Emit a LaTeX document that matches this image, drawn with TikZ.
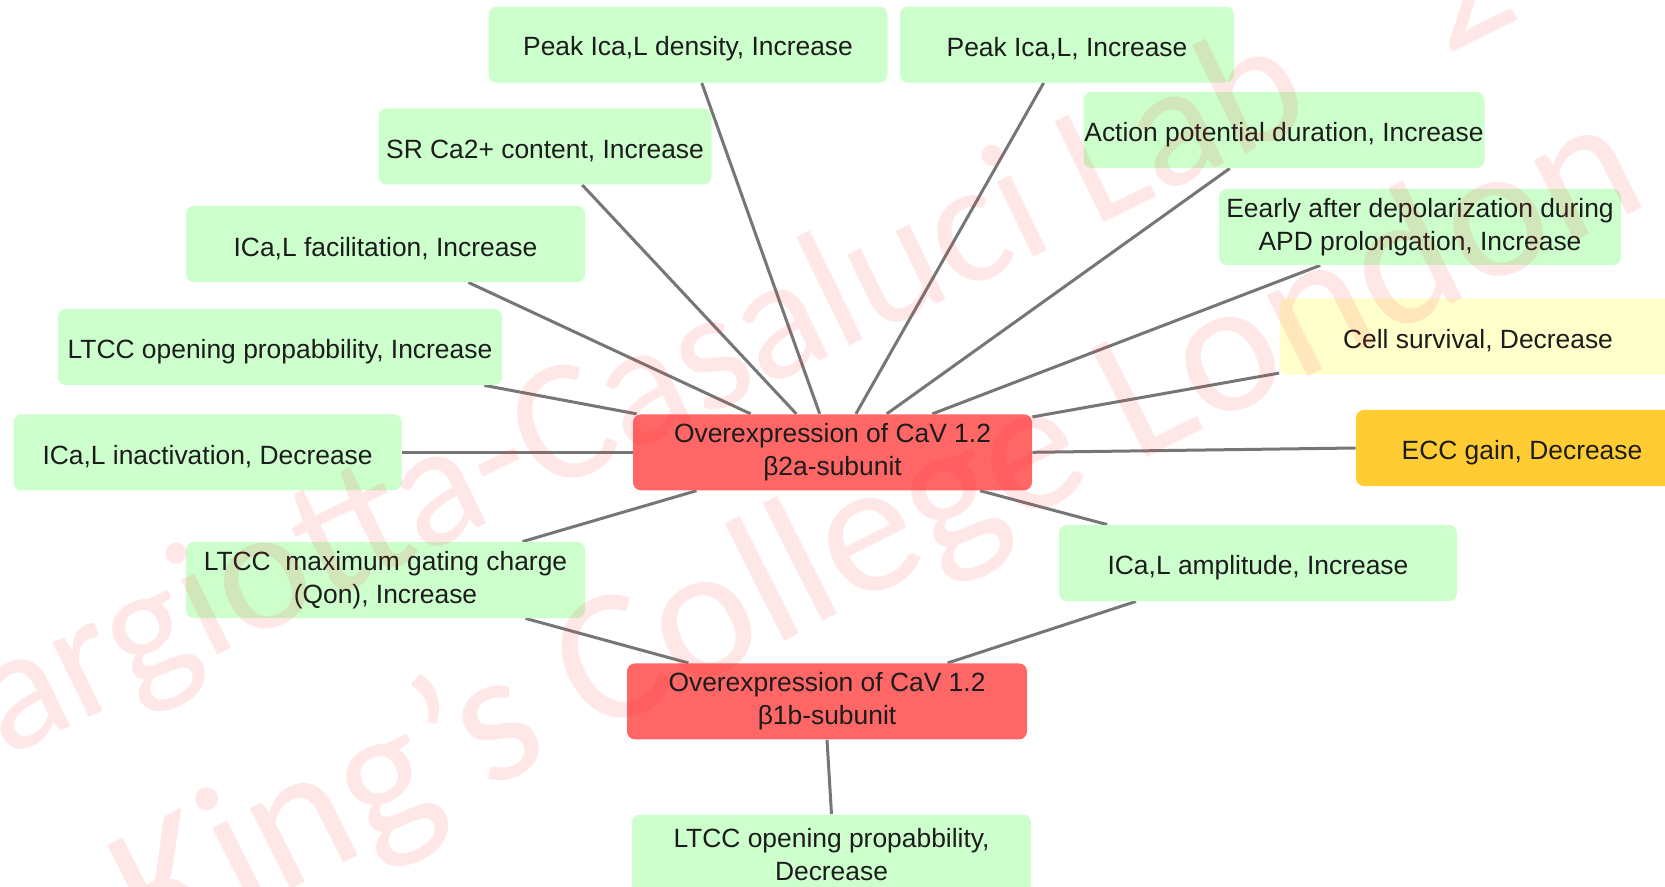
\documentclass[tikz,border=0pt]{standalone}
\usepackage{fontspec}
\setmainfont{Liberation Sans}
\newfontfamily\wmfont{Carlito}
\definecolor{boxgreen}{RGB}{204,255,204}
\definecolor{boxred}{RGB}{255,102,102}
\definecolor{boxorange}{RGB}{255,204,51}
\definecolor{boxyellow}{RGB}{255,255,204}
\definecolor{linkgray}{RGB}{118,118,118}
\definecolor{inkdark}{RGB}{28,28,28}
\definecolor{markred}{RGB}{255,40,40}
\pgfdeclarelayer{background}
\pgfdeclarelayer{front}
\pgfsetlayers{background,main,front}
\tikzset{
  box/.style={draw=none, rounded corners=4pt, minimum height=38pt, inner sep=0pt,
    align=center, text=inkdark, font=\fontsize{13.2}{16.5}\selectfont,
    execute at begin node={\rule{0pt}{13.9pt}}},
  effect/.style={box, fill=boxgreen},
  cause/.style={box, fill=boxred},
  survival/.style={box, fill=boxyellow},
  gain/.style={box, fill=boxorange},
  link/.style={draw=linkgray, line width=1.5pt},
  wmark/.style={inner sep=0pt, text=markred, text opacity=0.11},
}
\begin{document}
\begin{tikzpicture}[x=0.5pt, y=-0.5pt]
\useasboundingbox (0,0) rectangle (1665,887);

% effect and cause boxes
\node[effect, minimum width=199.5pt] (pkd) at (688,44.6) {Peak Ica,L density, Increase};
\node[effect, minimum width=167pt] (pki) at (1067,44.6) {Peak Ica,L, Increase};
\node[effect, minimum width=166.5pt] (sr) at (545,146.5) {SR Ca2+ content, Increase};
\node[effect, minimum width=200.5pt] (apd) at (1284,130) {Action potential duration, Increase};
\node[effect, minimum width=199.5pt] (fac) at (385.5,244) {ICa,L facilitation, Increase};
\node[effect, minimum width=201pt] (ead) at (1420,227) {Eearly after depolarization during\\APD prolongation, Increase};
\node[effect, minimum width=222pt] (opi) at (280,347) {LTCC opening propabbility, Increase};
\node[survival, minimum width=198.5pt] (surv) at (1478,336.7) {Cell survival, Decrease};
\node[effect, minimum width=194pt] (ina) at (207.6,452.3) {ICa,L inactivation, Decrease};
\node[cause, minimum width=199.5pt] (b2a) at (832.5,452.3) {Overexpression of CaV 1.2\\β2a-subunit};
\node[gain, minimum width=166pt] (ecc) at (1522,448) {ECC gain, Decrease};
\node[effect, minimum width=199.5pt] (qon) at (385.5,580) {LTCC\ \ maximum gating charge\\(Qon), Increase};
\node[effect, minimum width=199pt] (amp) at (1258,563) {ICa,L amplitude, Increase};
\node[cause, minimum width=200pt] (b1b) at (827,701.4) {Overexpression of CaV 1.2\\β1b-subunit};
\node[effect, minimum width=199.5pt, minimum height=40pt] (opd) at (831.5,854.5) {LTCC opening propabbility,\\Decrease};

% connectors, kept behind the boxes
\begin{pgfonlayer}{background}
\draw[link] ([xshift=6.9pt]pkd.south) -- ([xshift=-6.4pt]b2a.north);
\draw[link] ([xshift=-11.7pt]pki.south) -- ([xshift=11.7pt]b2a.north);
\draw[link] ([xshift=18.6pt]sr.south) -- ([xshift=-18.1pt]b2a.north);
\draw[link] ([xshift=-27.1pt]apd.south) -- ([xshift=27.1pt]b2a.north);
\draw[link] ([xshift=41.4pt]fac.south) -- ([xshift=-40.9pt]b2a.north);
\draw[link] ([xshift=-49.9pt]ead.south) -- ([xshift=49.9pt]b2a.north);
\draw[link] ([xshift=-9pt]opi.south east) -- ([xshift=2pt]b2a.north west);
\draw[link] ([yshift=1pt]surv.south west) -- ([yshift=-1.5pt]b2a.north east);
\draw[link] (ina.east) -- (b2a.west);
\draw[link] (b2a.east) -- (ecc.west);
\draw[link] ([xshift=68.5pt]qon.north) -- ([xshift=-68pt]b2a.south);
\draw[link] ([xshift=-75.4pt]amp.north) -- ([xshift=73.8pt]b2a.south);
\draw[link] ([xshift=70pt]qon.south) -- ([xshift=-69.3pt]b1b.north);
\draw[link] ([xshift=-61pt]amp.south) -- ([xshift=60.3pt]b1b.north);
\draw[link] (b1b.south) -- (opd.north);
\end{pgfonlayer}

% translucent lab watermark
\begin{pgfonlayer}{front}
\clip (0,0) rectangle (1665,887);
\node[wmark, anchor=base west, rotate=26, font=\wmfont\fontsize{87}{87}\selectfont] (wm1) at (-129,824) {Margiotta-Casaluci Lab\hspace{0.6em} 2};
\node[wmark, anchor=base, rotate=26.8, font=\wmfont\fontsize{95}{95}\selectfont] (wm2) at (903,581) {King’s College London};
\end{pgfonlayer}
\end{tikzpicture}
\end{document}
